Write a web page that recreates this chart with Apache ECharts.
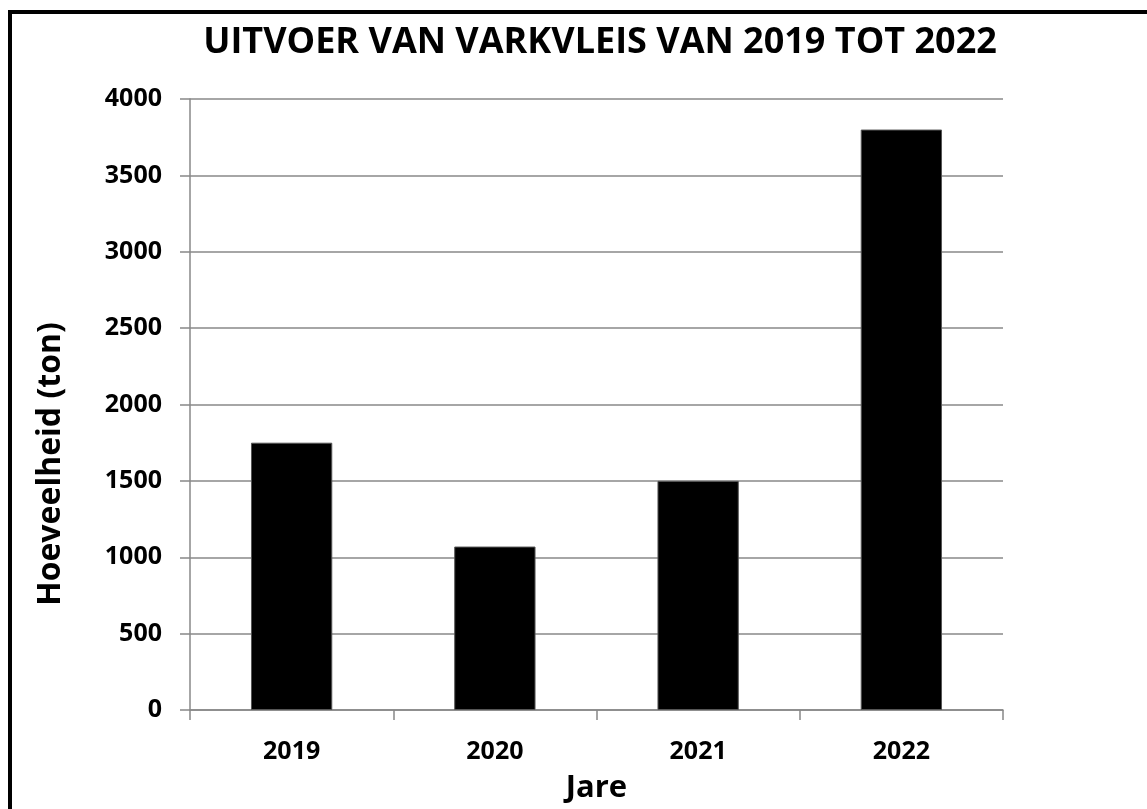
<!DOCTYPE html>
<html>
<head>
<meta charset="utf-8">
<script src="https://cdn.jsdelivr.net/npm/echarts@6/dist/echarts.min.js"></script>
<style>
html,body{margin:0;padding:0;background:#fff;overflow:hidden;}
#chart{width:1147px;height:809px;}
</style>
</head>
<body>
<div id="chart"></div>
<script>
const titleText = 'UITVOER VAN VARKVLEIS VAN 2019 TOT 2022';
const categories = ['2019', '2020', '2021', '2022'];
const values = [1750, 1070, 1500, 3800];
const yTicks = [0, 500, 1000, 1500, 2000, 2500, 3000, 3500, 4000];
const xAxisName = 'Jare';
const yAxisName = 'Hoeveelheid (ton)';

const FONT = '"Open Sans", sans-serif';
const chart = echarts.init(document.getElementById('chart'), null, {renderer: 'canvas', width: 1147, height: 809});
chart.setOption({
  animation: false,
  backgroundColor: '#fff',
  title: {
    text: titleText,
    left: 595, top: 20, textAlign: 'center',
    textStyle: {fontFamily: FONT, fontWeight: 'bold', fontSize: 36, color: '#000'}
  },
  graphic: [
    {type: 'rect', shape: {x: 10, y: 12, width: 1300, height: 1000},
     style: {fill: 'none', stroke: '#000', lineWidth: 4}},
    {type: 'text', x: 51, y: 464, rotation: Math.PI / 2,
     style: {text: yAxisName, fontFamily: FONT, fontWeight: 'bold', fontSize: 32,
             fill: '#000', align: 'center', verticalAlign: 'middle'}}
  ],
  grid: {left: 190, width: 813, top: 99, height: 616, containLabel: false},
  xAxis: {
    type: 'category', data: categories,
    name: xAxisName, nameLocation: 'middle', nameGap: 63,
    nameTextStyle: {fontFamily: FONT, fontWeight: 'bold', fontSize: 31, color: '#000'},
    axisLine: {show: true, lineStyle: {color: '#888', width: 1.5}},
    axisTick: {show: true, alignWithLabel: false, length: 10, lineStyle: {color: '#888', width: 1.5}},
    axisLabel: {fontFamily: FONT, fontWeight: 'bold', fontSize: 25, color: '#000', margin: 29},
    splitLine: {show: false}
  },
  yAxis: {
    type: 'value', min: yTicks[0], max: yTicks[yTicks.length - 1], interval: 500,
    axisLine: {show: true, lineStyle: {color: '#888', width: 1.5}},
    axisTick: {show: true, length: 10, inside: false, lineStyle: {color: '#888', width: 1.5}},
    axisLabel: {fontFamily: FONT, fontWeight: 'bold', fontSize: 25, color: '#000', margin: 28,
                formatter: function (v) { return String(v); }},
    splitLine: {show: true, lineStyle: {color: '#888', width: 1.5}}
  },
  series: [{
    type: 'bar', data: values, barWidth: '40%',
    itemStyle: {color: '#000', borderColor: '#555', borderWidth: 1}
  }]
});
</script>
</body>
</html>
